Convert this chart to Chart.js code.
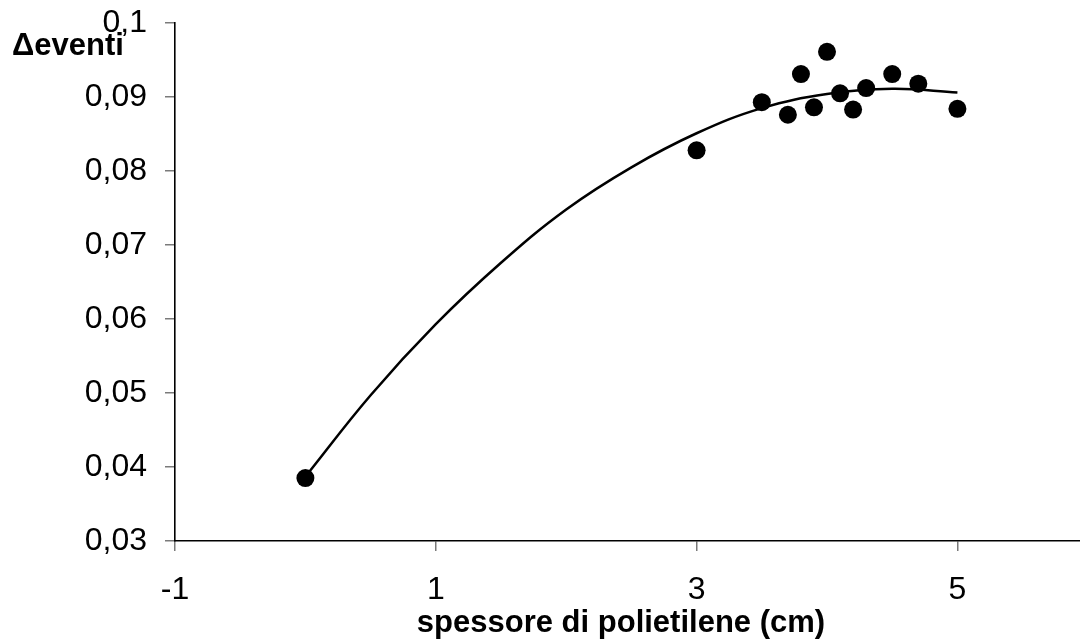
<!DOCTYPE html>
<html>
<head>
<meta charset="utf-8">
<script src="https://cdn.jsdelivr.net/npm/chart.js@4.4.1/dist/chart.umd.min.js"></script>
<style>
  html, body { margin: 0; padding: 0; background: #fff; }
  #wrap { width: 1080px; height: 641px; }
</style>
</head>
<body>
<div id="wrap"><canvas id="chart" width="1080" height="641"></canvas></div>
<script>
// measured points: thickness (cm) vs event difference
const thickness = [0, 3, 3.5, 3.7, 3.8, 3.9, 4.0, 4.1, 4.2, 4.3, 4.5, 4.7, 5.0];
const deltaEvents = [0.0385, 0.0828, 0.0893, 0.0876, 0.0931, 0.0886, 0.0961, 0.0905, 0.0883, 0.0912, 0.0931, 0.0918, 0.0884];

// trend curve, sampled along the fitted line
const trendX = [0, 0.5, 1, 1.5, 2, 2.5, 3, 3.5, 4, 4.5, 5];
const trendY = [0.0387, 0.0497, 0.0593, 0.0676, 0.0748, 0.0805, 0.0851, 0.0885, 0.0904, 0.0911, 0.0906];

const xTicks = [-1, 1, 3, 5];
const yTicks = [0.03, 0.04, 0.05, 0.06, 0.07, 0.08, 0.09, 0.1];

const FONT = "'Liberation Sans', Arial, sans-serif";
const fmt = v => String(+v.toFixed(2)).replace('.', ',');

// axis titles drawn by hand so they sit where they should
const axisTitles = {
  id: 'axisTitles',
  afterDraw(chart) {
    const ctx = chart.ctx;
    ctx.save();
    ctx.fillStyle = '#000';
    ctx.font = 'bold 31px ' + FONT;
    ctx.textAlign = 'left';
    ctx.textBaseline = 'alphabetic';
    ctx.fillText('\u0394eventi', 12, 55);
    ctx.textAlign = 'center';
    ctx.fillText('spessore di polietilene (cm)', 621, 632);
    ctx.restore();
  }
};

// drop the extra room Chart.js reserves for edge labels
const noEdgePadding = axis => {
  axis.paddingTop = 0;
  axis.paddingBottom = 0;
  axis.paddingLeft = 0;
  axis.paddingRight = 0;
};

new Chart(document.getElementById('chart'), {
  type: 'scatter',
  data: {
    datasets: [
      {
        label: 'dati',
        data: thickness.map((x, i) => ({ x: x, y: deltaEvents[i] })),
        backgroundColor: '#000',
        borderColor: '#000',
        borderWidth: 0,
        pointRadius: 9,
        pointHoverRadius: 9,
        order: 1
      },
      {
        label: 'fit',
        type: 'line',
        data: trendX.map((x, i) => ({ x: x, y: trendY[i] })),
        borderColor: '#000',
        borderWidth: 2.5,
        pointRadius: 0,
        fill: false,
        tension: 0.4,
        order: 2
      }
    ]
  },
  options: {
    responsive: false,
    animation: false,
    clip: false,
    layout: { autoPadding: false, padding: { top: 23, right: 0, left: 0, bottom: 0 } },
    plugins: {
      legend: { display: false },
      tooltip: { enabled: false }
    },
    scales: {
      x: {
        type: 'linear',
        position: 'bottom',
        min: -1,
        max: 5.94,
        afterBuildTicks: axis => { axis.ticks = xTicks.map(v => ({ value: v })); },
        afterFit: axis => { axis.height = 100; noEdgePadding(axis); },
        ticks: {
          callback: v => fmt(v),
          color: '#000',
          font: { family: FONT, size: 32 },
          padding: 20,
          maxRotation: 0
        },
        grid: {
          drawOnChartArea: false,
          drawTicks: true,
          tickLength: 10,
          color: '#7a7a7a',
          lineWidth: 1.5
        },
        border: { color: '#000', width: 1.6 }
      },
      y: {
        type: 'linear',
        min: 0.03,
        max: 0.1,
        afterBuildTicks: axis => { axis.ticks = yTicks.map(v => ({ value: v })); },
        afterFit: axis => { axis.width = 175; noEdgePadding(axis); },
        ticks: {
          callback: v => fmt(v),
          color: '#000',
          font: { family: FONT, size: 32 },
          padding: 18
        },
        grid: {
          drawOnChartArea: false,
          drawTicks: true,
          tickLength: 10,
          color: '#7a7a7a',
          lineWidth: 1.5
        },
        border: { color: '#000', width: 1.6 }
      }
    }
  },
  plugins: [axisTitles]
});
</script>
</body>
</html>
